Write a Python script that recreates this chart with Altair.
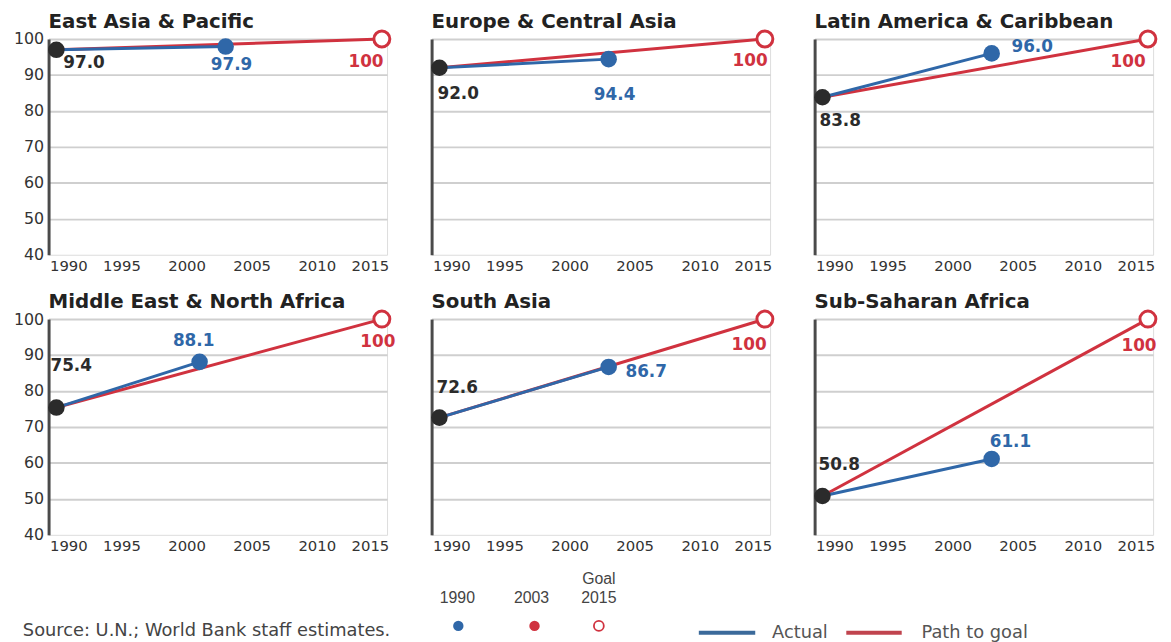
import altair as alt
import pandas as pd

# ---------------- data ----------------
regions = [
    "East Asia & Pacific",
    "Europe & Central Asia",
    "Latin America & Caribbean",
    "Middle East & North Africa",
    "South Asia",
    "Sub-Saharan Africa",
]
base_year = 1990
value_1990 = [97.0, 92.0, 83.8, 75.4, 72.6, 50.8]
actual_year = [2003, 2003, 2003, 2001, 2003, 2003]
value_actual = [97.9, 94.4, 96.0, 88.1, 86.7, 61.1]
goal_year = 2015
goal_value = [100, 100, 100, 100, 100, 100]

x_ticks = [1990, 1995, 2000, 2005, 2010, 2015]
y_ticks = [40, 50, 60, 70, 80, 90, 100]

legend_years = ["1990", "2003"]
legend_goal = ["Goal", "2015"]
legend_lines = ["Actual", "Path to goal"]
source_text = "Source: U.N.; World Bank staff estimates."

# ---------------- style ----------------
BLUE = "#2f67a8"
RED = "#d0323f"
DARK = "#2b2b2b"
GRID = "#cfcfcf"
AXIS = "#4a4a4a"
TXT = "#333333"
FONT = "DejaVu Sans"
NARROW = "Liberation Sans Narrow, Arial Narrow, Liberation Sans"

PW, PH = 342, 218

# label placement per panel: (align, dx, dy) for 1990 / actual / goal labels
label_style = [
    [("left", 7, 13), ("center", 6, 19), ("center", -16, 23)],
    [("left", -2, 27), ("center", 6, 36), ("center", -15, 22)],
    [("left", -3, 24), ("left", 20, -6), ("center", -20, 23)],
    [("left", -6, -42), ("center", -6, -21), ("center", -4, 23)],
    [("left", -3, -30), ("left", 17, 5), ("center", -16, 26)],
    [("left", -4, -31), ("left", -2, -17), ("center", -9, 27)],
]


def x_enc():
    return alt.X(
        "year:Q",
        scale=alt.Scale(domain=[1989.4, 2015.4], nice=False, zero=False),
        axis=alt.Axis(
            values=x_ticks, format="d", title=None, grid=False, domain=False,
            ticks=False, labelFlush=10, labelFlushOffset=7, labelFontSize=15,
            labelColor=TXT, labelFont=FONT, labelPadding=4,
        ),
    )


def y_enc(show):
    return alt.Y(
        "value:Q",
        scale=alt.Scale(domain=[40, 100], nice=False, zero=False),
        axis=alt.Axis(
            values=y_ticks, title=None, labels=show, ticks=False, domain=True,
            domainColor=AXIS, domainWidth=3, grid=True, gridColor=GRID,
            gridWidth=2,
            gridOpacity={"condition": {"test": "datum.value <= 40", "value": 0}, "value": 1},
            labelFontSize=16, labelColor=TXT, labelFont=FONT, labelPadding=5,
        ),
    )


dummy = pd.DataFrame({"k": [0]})


def key_text(text, x, y, **kw):
    return alt.Chart(dummy).mark_text(text=text, baseline="middle", **kw).encode(
        x=alt.value(x), y=alt.value(y))


def key_layers():
    # bottom key, placed below the Middle East panel
    return [
        key_text(source_text, -26, 315, font=FONT, fontSize=18, color="#444", align="left"),
        key_text(legend_years[0], 413, 282, font=NARROW, fontSize=16, color="#444", align="center"),
        key_text(legend_years[1], 488, 282, font=NARROW, fontSize=16, color="#444", align="center"),
        key_text(legend_goal[0], 556, 263, font=NARROW, fontSize=16, color="#444", align="center"),
        key_text(legend_goal[1], 556, 282, font=NARROW, fontSize=16, color="#444", align="center"),
        alt.Chart(dummy).mark_circle(size=110, color=BLUE, opacity=1).encode(
            x=alt.value(414), y=alt.value(310)),
        alt.Chart(dummy).mark_circle(size=110, color=RED, opacity=1).encode(
            x=alt.value(491), y=alt.value(310)),
        alt.Chart(dummy).mark_point(shape="circle", size=100, filled=False, color=RED,
                                    strokeWidth=1.8, opacity=1).encode(
            x=alt.value(556), y=alt.value(310)),
        alt.Chart(dummy).mark_rule(color="#3b6a9a", strokeWidth=4).encode(
            x=alt.value(657), x2=alt.value(714), y=alt.value(317)),
        key_text(legend_lines[0], 731, 317, font=FONT, fontSize=18, color="#555", align="left"),
        alt.Chart(dummy).mark_rule(color="#c0444e", strokeWidth=4).encode(
            x=alt.value(806), x2=alt.value(862), y=alt.value(317)),
        key_text(legend_lines[1], 882, 317, font=FONT, fontSize=18, color="#555", align="left"),
    ]


def panel(i, show, extra=None):
    lines = pd.DataFrame({
        "year": [base_year, actual_year[i], base_year, goal_year],
        "value": [value_1990[i], value_actual[i], value_1990[i], goal_value[i]],
        "series": ["Actual", "Actual", "Path to goal", "Path to goal"],
    })
    pts = pd.DataFrame({
        "year": [base_year, actual_year[i], goal_year],
        "value": [value_1990[i], value_actual[i], goal_value[i]],
        "kind": ["start", "actual", "goal"],
        "label": [f"{value_1990[i]:.1f}", f"{value_actual[i]:.1f}", f"{goal_value[i]:.0f}"],
    })
    enc = dict(x=x_enc(), y=y_enc(show))
    red_line = alt.Chart(lines).transform_filter("datum.series == 'Path to goal'").mark_line(
        color=RED, strokeWidth=3).encode(**enc)
    blue_line = alt.Chart(lines).transform_filter("datum.series == 'Actual'").mark_line(
        color=BLUE, strokeWidth=3).encode(**enc)
    p_start = alt.Chart(pts).transform_filter("datum.kind == 'start'").mark_circle(
        size=280, color=DARK, opacity=1).encode(**enc)
    p_act = alt.Chart(pts).transform_filter("datum.kind == 'actual'").mark_circle(
        size=280, color=BLUE, opacity=1).encode(**enc)
    p_goal = alt.Chart(pts).transform_filter("datum.kind == 'goal'").mark_point(
        shape="circle", size=260, filled=False, fill="white", fillOpacity=1,
        color=RED, strokeWidth=3, opacity=1).encode(**enc)
    layers = [red_line, blue_line, p_start, p_act, p_goal]
    colors = [DARK, BLUE, RED]
    for kind, col, (al, dx, dy) in zip(["start", "actual", "goal"], colors, label_style[i]):
        layers.append(
            alt.Chart(pts).transform_filter(f"datum.kind == '{kind}'").mark_text(
                font=FONT, fontWeight="bold", fontSize=17, color=col, align=al,
                baseline="middle", dx=dx, dy=dy,
            ).encode(text="label:N", **enc)
        )
    if extra:
        layers += extra
    return alt.layer(*layers).properties(
        width=PW, height=PH,
        title=alt.TitleParams(
            text=regions[i], anchor="start", frame="group", fontSize=20,
            font=FONT, fontWeight="bold", color="#222222", offset=-7,
        ),
    )


panels = [
    panel(0, True), panel(1, False), panel(2, False),
    panel(3, True, key_layers()), panel(4, False), panel(5, False),
]

chart = alt.concat(
    *panels, columns=3, spacing={"row": 65, "column": 45}, bounds="flush"
).properties(
    padding={"left": 4, "top": 0, "right": 0, "bottom": 0}
).configure_view(stroke=None).configure(background="white")

chart.save("out.html", embed_options={"renderer": "svg", "actions": False})
